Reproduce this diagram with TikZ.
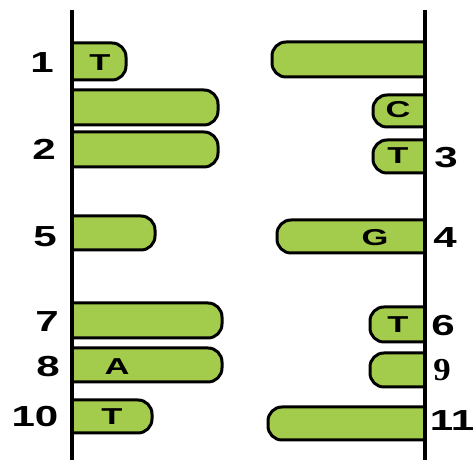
\documentclass[tikz,border=0pt]{standalone}
\usepackage{fontspec}
\setmainfont{Liberation Sans}
\newfontfamily\ninefont{Liberation Serif}
\definecolor{bargreen}{RGB}{164,204,76}
\newcommand\mkLbar[3]{\draw[bar] (72,{460-#1}) -- ({#3-14},{460-#1}) arc[start angle=90,end angle=0,radius=14] -- (#3,{460-#2+14}) arc[start angle=0,end angle=-90,radius=14] -- (72,{460-#2});}
\newcommand\mkRbar[3]{\draw[bar] (425,{460-#1}) -- ({#3+14},{460-#1}) arc[start angle=90,end angle=180,radius=14] -- (#3,{460-#2+14}) arc[start angle=180,end angle=270,radius=14] -- (425,{460-#2});}
\begin{document}
\begin{tikzpicture}[x=1pt,y=1pt,
  bar/.style={draw=black,line width=3pt,fill=bargreen},
  strand/.style={line width=3.5pt,black},
  num/.style={font=\fontsize{29}{29}\selectfont\bfseries,xscale=1.45,inner sep=0pt},
  base/.style={font=\fontsize{23}{23}\selectfont\bfseries,xscale=1.5,inner sep=0pt}]
\useasboundingbox (0,0) rectangle (475,460);
% left bars
\mkLbar{43}{80}{126}
\mkLbar{90}{125}{218}
\mkLbar{132}{167}{218}
\mkLbar{216}{250}{155}
\mkLbar{303}{338}{222}
\mkLbar{348}{382}{222}
\mkLbar{400}{433}{152}
% right bars
\mkRbar{42}{77}{272}
\mkRbar{95}{127}{373}
\mkRbar{140}{173}{373}
\mkRbar{220}{253}{277}
\mkRbar{307}{342}{370}
\mkRbar{353}{387}{370}
\mkRbar{407}{440}{268}
% strands
\coordinate (lt) at (72,450);
\coordinate (lb) at (72,0);
\coordinate (rt) at (425,450);
\coordinate (rb) at (425,0);
\draw[strand] (lt) -- (lb);
\draw[strand] (rt) -- (rb);
% bases
\node[base] (b1) at (100,{460-63}) {T};
\node[base] (b8) at (117,{460-367}) {A};
\node[base] (b10) at (112,{460-417}) {T};
\node[base] (bc) at (398,{460-110}) {C};
\node[base] (b3) at (398,{460-156}) {T};
\node[base] (b4) at (375,{460-238}) {G};
\node[base] (b6) at (398,{460-325}) {T};
% numbers
\node[num] (n1) at (42,{460-63}) {1};
\node[num] (n2) at (44,{460-149}) {2};
\node[num] (n5) at (45,{460-237}) {5};
\node[num] (n7) at (47,{460-322}) {7};
\node[num] (n8) at (48,{460-367}) {8};
\node[num] (n10) at (35,{460-417}) {10};
\node[num] (n3) at (446,{460-158}) {3};
\node[num] (n4) at (445,{460-238}) {4};
\node[num] (n6) at (443,{460-326}) {6};
\node[num,font=\fontsize{32}{32}\selectfont\ninefont\bfseries,xscale=0.75] (n9) at (442,{460-370}) {9};
\node[num] (n11) at (452,{460-421}) {11};
\end{tikzpicture}
\end{document}
